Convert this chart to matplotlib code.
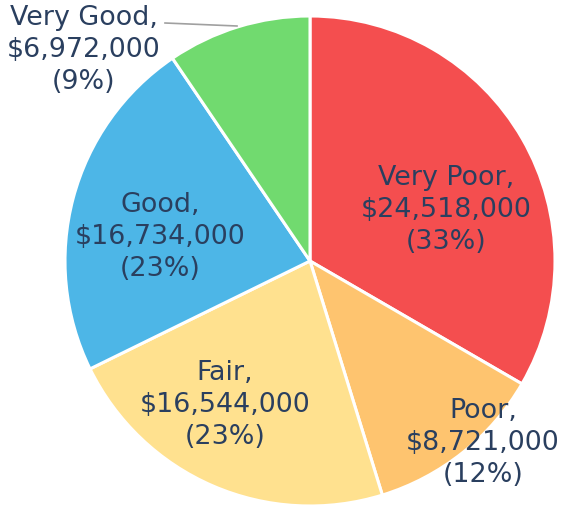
import matplotlib.pyplot as plt

# condition categories and replacement cost
categories = ["Very Poor", "Poor", "Fair", "Good", "Very Good"]
values = [24518000, 8721000, 16544000, 16734000, 6972000]
colors = ["#F44E4F", "#FEC46F", "#FFE18F", "#4DB6E7", "#71DA6F"]

# label placement, pixel offset from the pie centre (x right, y up)
label_offsets = [(136, 52), (173, -181), (-85, -143), (-150, 25), (-226, 212)]

W, H = 562, 506
cx, cy, R = 310, 244, 245

fig = plt.figure(figsize=(W / 100, H / 100), dpi=100)
ax = fig.add_axes([0, 0, 1, 1])

wedges, _ = ax.pie(values, colors=colors, startangle=90, counterclock=False,
                   center=(cx, cy), radius=R, frame=True,
                   wedgeprops=dict(edgecolor="white", linewidth=2.2))
ax.set_xlim(0, W)
ax.set_ylim(0, H)
ax.set_aspect("equal")
ax.axis("off")

total = sum(values)
for cat, v, (dx, dy) in zip(categories, values, label_offsets):
    pct = round(100 * v / total)
    txt = "{0},\n${1:,}\n({2}%)".format(cat, v, pct)
    ax.text(cx + dx, cy + dy, txt, ha="center", va="center", fontsize=19.4,
            color="#2A3F5F", linespacing=1.28)

# leader line for the outside label
ax.plot([165, 237], [H - 24, H - 27], color="#A0A0A0", lw=1.2)

fig.savefig("out.png", dpi=100)
